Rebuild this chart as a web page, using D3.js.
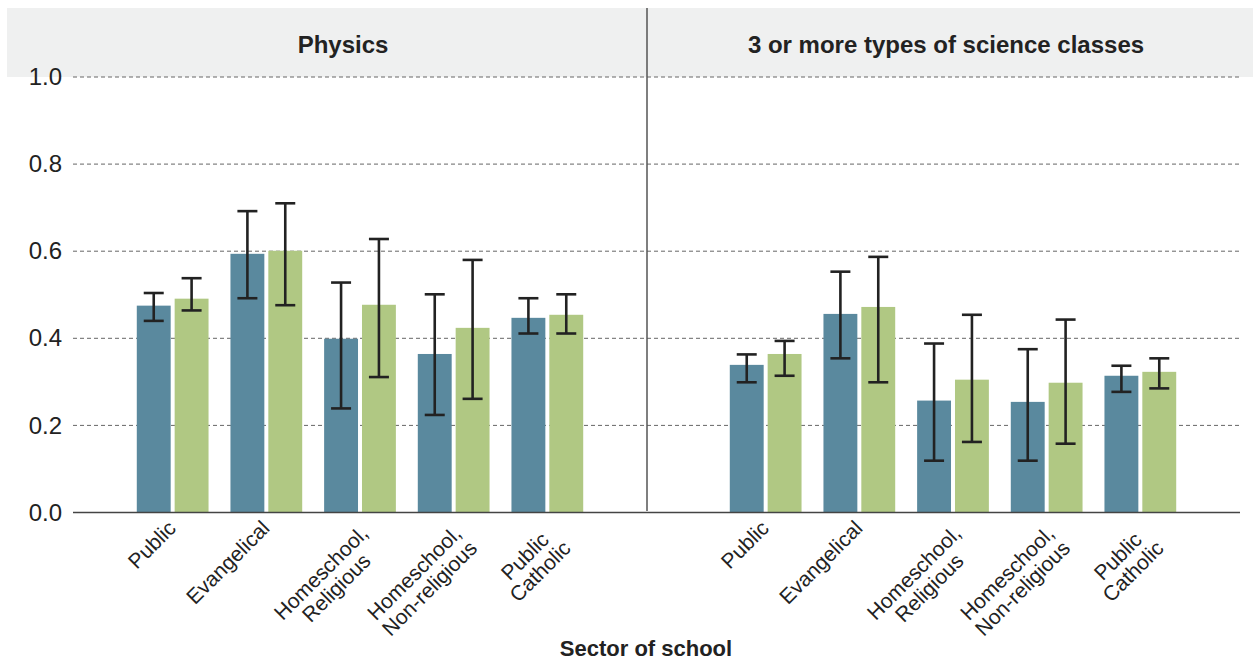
<!DOCTYPE html>
<html>
<head>
<meta charset="utf-8">
<script src="https://cdn.jsdelivr.net/npm/d3@7"></script>
<style>
  html, body { margin: 0; padding: 0; background: #fff; }
  svg { display: block; }
</style>
</head>
<body>
<svg id="chart" width="1253" height="660"></svg>
<script>
// Facet panels and school sectors
const panels = ["Physics", "3 or more types of science classes"];
const categories = ["Public", "Evangelical", "Homeschool,\nReligious", "Homeschool,\nNon-religious", "Public\nCatholic"];
const seriesKeys = ["a", "b"];
const yTicks = [0, 0.2, 0.4, 0.6, 0.8, 1.0];
const xTitle = "Sector of school";

// Physics: estimates with interval bounds
const physicsA = [0.475, 0.594, 0.399, 0.364, 0.447];
const physicsALow = [0.440, 0.492, 0.239, 0.224, 0.411];
const physicsAHigh = [0.504, 0.692, 0.528, 0.501, 0.492];
const physicsB = [0.491, 0.601, 0.477, 0.424, 0.454];
const physicsBLow = [0.464, 0.476, 0.311, 0.261, 0.411];
const physicsBHigh = [0.538, 0.710, 0.628, 0.580, 0.501];

// 3 or more types of science classes
const scienceA = [0.339, 0.456, 0.257, 0.254, 0.314];
const scienceALow = [0.299, 0.354, 0.119, 0.119, 0.277];
const scienceAHigh = [0.363, 0.553, 0.388, 0.375, 0.337];
const scienceB = [0.364, 0.472, 0.305, 0.298, 0.323];
const scienceBLow = [0.314, 0.299, 0.162, 0.158, 0.285];
const scienceBHigh = [0.394, 0.587, 0.454, 0.443, 0.354];

const panelData = [
  { a: physicsA, aLow: physicsALow, aHigh: physicsAHigh, b: physicsB, bLow: physicsBLow, bHigh: physicsBHigh },
  { a: scienceA, aLow: scienceALow, aHigh: scienceAHigh, b: scienceB, bLow: scienceBLow, bHigh: scienceBHigh }
];

const colors = { a: "#5a899e", b: "#b0c883" };

const svg = d3.select("#chart");
const plotTop = 77, plotBottom = 512.5;
const plotLeft = 73, plotRight = 1240, divider = 647;
const panelRanges = [[plotLeft, divider], [666, plotRight]];
const titleX = [343, 946];

const y = d3.scaleLinear().domain([0, 1]).range([plotBottom, plotTop]);

// strip header
svg.append("rect")
  .attr("x", 7).attr("y", 8)
  .attr("width", 1253 - 7).attr("height", plotTop - 8)
  .attr("fill", "#eff0f0");

panels.forEach((p, i) => {
  svg.append("text")
    .attr("x", titleX[i]).attr("y", 53)
    .attr("text-anchor", "middle")
    .attr("font-family", "'Liberation Sans', Arial, sans-serif")
    .attr("font-weight", 700)
    .attr("font-size", 24)
    .attr("fill", "#222")
    .text(p);
});

// gridlines
const grid = svg.append("g");
yTicks.filter(t => t > 0).forEach(t => {
  grid.append("line")
    .attr("x1", plotLeft).attr("x2", plotRight)
    .attr("y1", y(t)).attr("y2", y(t))
    .attr("stroke", "#666").attr("stroke-width", 1)
    .attr("stroke-dasharray", "4,3");
});

// y axis labels
const yAxis = d3.axisLeft(y).tickValues(yTicks).tickFormat(d3.format(".1f")).tickSize(0).tickPadding(11);
const yg = svg.append("g").attr("transform", `translate(${plotLeft},0)`).call(yAxis);
yg.select(".domain").remove();
yg.selectAll("text")
  .attr("font-family", "'Liberation Sans', Arial, sans-serif")
  .attr("font-size", 24)
  .attr("fill", "#222");

// panels
panels.forEach((p, i) => {
  const d = panelData[i];
  const x0 = d3.scaleBand().domain(categories).range(panelRanges[i])
    .paddingInner(0.234).paddingOuter(0.681);
  const x1 = d3.scaleBand().domain(seriesKeys).range([0, x0.bandwidth()]).paddingInner(0.105);
  const g = svg.append("g");

  categories.forEach((c, j) => {
    seriesKeys.forEach(k => {
      const v = d[k][j];
      const bx = x0(c) + x1(k);
      g.append("rect")
        .attr("x", bx).attr("y", y(v))
        .attr("width", x1.bandwidth()).attr("height", y(0) - y(v))
        .attr("fill", colors[k]);
    });
  });

  // error bars
  categories.forEach((c, j) => {
    seriesKeys.forEach(k => {
      const cx = x0(c) + x1(k) + x1.bandwidth() / 2;
      const lo = d[k + "Low"][j], hi = d[k + "High"][j];
      const eg = g.append("g").attr("stroke", "#222").attr("stroke-width", 2.6);
      eg.append("line").attr("x1", cx).attr("x2", cx).attr("y1", y(lo)).attr("y2", y(hi));
      eg.append("line").attr("x1", cx - 10).attr("x2", cx + 10).attr("y1", y(lo)).attr("y2", y(lo));
      eg.append("line").attr("x1", cx - 10).attr("x2", cx + 10).attr("y1", y(hi)).attr("y2", y(hi));
    });
  });

  // category labels: rotated blocks, lines centred within the block, block ending at the tick
  categories.forEach(c => {
    const cx = x0(c) + x0.bandwidth() / 2;
    const lines = c.split("\n");
    const outer = svg.append("g")
      .attr("transform", `translate(${cx - 6},${519}) rotate(-45)`);
    const t = outer.append("text")
      .attr("text-anchor", "middle")
      .attr("font-family", "'Liberation Sans', Arial, sans-serif")
      .attr("font-size", 21)
      .attr("fill", "#222");
    const spans = lines.map((line, li) =>
      t.append("tspan").attr("x", 0).attr("dy", li === 0 ? "0.71em" : "1.02em").text(line));
    const w = d3.max(spans, s => s.node().getComputedTextLength());
    const drop = (lines.length - 1) * 7;
    t.attr("transform", `translate(${-w / 2},${drop})`);
  });
});

// baseline
svg.append("line")
  .attr("x1", plotLeft).attr("x2", plotRight)
  .attr("y1", y(0)).attr("y2", y(0))
  .attr("stroke", "#444").attr("stroke-width", 1.6);

// panel divider
svg.append("line")
  .attr("x1", divider).attr("x2", divider)
  .attr("y1", 8).attr("y2", 511)
  .attr("stroke", "#555").attr("stroke-width", 1.5);

// x title
svg.append("text")
  .attr("x", 646).attr("y", 656)
  .attr("text-anchor", "middle")
  .attr("font-family", "'Liberation Sans', Arial, sans-serif")
  .attr("font-weight", 700)
  .attr("font-size", 22)
  .attr("fill", "#222")
  .text(xTitle);
</script>
</body>
</html>
